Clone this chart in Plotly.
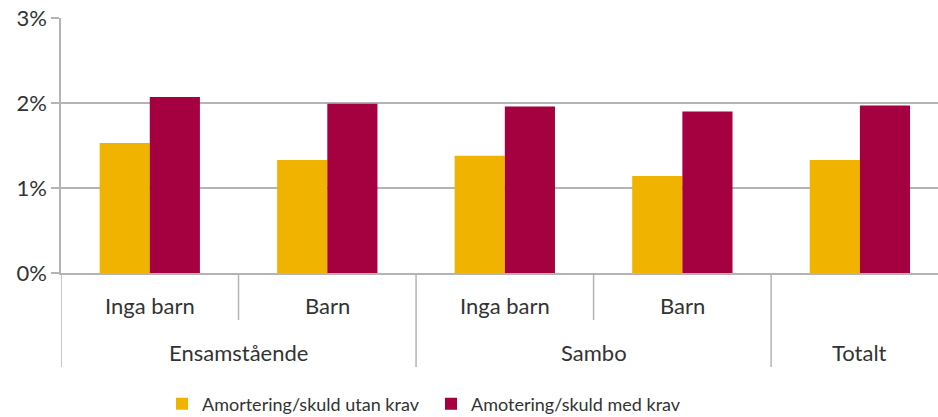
import plotly.graph_objects as go

groups = ["Ensamstående", "Sambo", "Totalt"]
group_spans = [(0, 1), (2, 3), (4, 4)]
subcats = ["Inga barn", "Barn", "Inga barn", "Barn", ""]
positions = [0, 1, 2, 3, 4]
utan_krav = [0.0153, 0.0133, 0.0138, 0.0114, 0.0133]
med_krav = [0.0207, 0.0199, 0.0196, 0.0190, 0.0197]
series_names = ["Amortering/skuld utan krav", "Amotering/skuld med krav"]
y_ticks = [0, 0.01, 0.02, 0.03]

YELLOW = "#F0B400"
RED = "#A50040"
GRID = "#B4B4B4"
TEXT = "#333333"
FONT = "Lato"

fig = go.Figure()
fig.add_trace(go.Bar(x=positions, y=utan_krav, name=series_names[0],
                     marker=dict(color=YELLOW, line=dict(width=0))))
fig.add_trace(go.Bar(x=positions, y=med_krav, name=series_names[1],
                     marker=dict(color=RED, line=dict(width=0))))

annotations = []
for p, s in zip(positions, subcats):
    if s:
        annotations.append(dict(x=p, y=0, xref="x", yref="paper", text=s,
                                showarrow=False, yanchor="middle", yshift=-32,
                                font=dict(family=FONT, size=22, color=TEXT)))
for g, (a, b) in zip(groups, group_spans):
    annotations.append(dict(x=(a + b) / 2, y=0, xref="x", yref="paper", text=g,
                            showarrow=False, yanchor="middle", yshift=-79,
                            font=dict(family=FONT, size=22, color=TEXT)))

plot_h = 417 - 18 - 144
shapes = []
for xb, full in [(-0.5, True), (0.5, False), (1.5, True), (2.5, False), (3.5, True)]:
    depth = 94 if full else 47
    shapes.append(dict(type="line", xref="x", yref="paper", x0=xb, x1=xb,
                       y0=0, y1=-depth / plot_h, line=dict(color=GRID, width=1.5)))

fig.update_layout(
    width=938, height=417,
    margin=dict(l=61, r=0, t=18, b=144, autoexpand=False),
    plot_bgcolor="white", paper_bgcolor="white",
    barmode="group", bargap=0.435, bargroupgap=0,
    font=dict(family=FONT, size=20, color=TEXT),
    xaxis=dict(range=[-0.5, 4.44], showticklabels=False, ticks="",
               showgrid=False, zeroline=False, showline=True, automargin=False,
               linecolor=GRID, linewidth=1.5),
    yaxis=dict(range=[0, 0.03], tickvals=y_ticks, tickformat=".0%",
               showgrid=True, gridcolor=GRID, gridwidth=1.5, zeroline=False,
               showline=True, linecolor=GRID, linewidth=1.5, automargin=False,
               ticks="outside", ticklen=8, tickcolor=GRID, tickwidth=1.5,
               tickfont=dict(family=FONT, size=22, color=TEXT)),
    legend=dict(orientation="h", x=(162 - 61) / 877, xanchor="left",
                y=-(404 - 273) / plot_h, yanchor="middle",
                font=dict(family=FONT, size=18, color=TEXT),
                entrywidth=224, entrywidthmode="pixels",
                itemwidth=30, tracegroupgap=0, bgcolor="rgba(0,0,0,0)"),
    annotations=annotations, shapes=shapes, showlegend=True,
)

fig.write_html("out.html", config={"displayModeBar": False},
               post_script="document.body.style.margin='0';document.body.style.overflow='hidden';")
